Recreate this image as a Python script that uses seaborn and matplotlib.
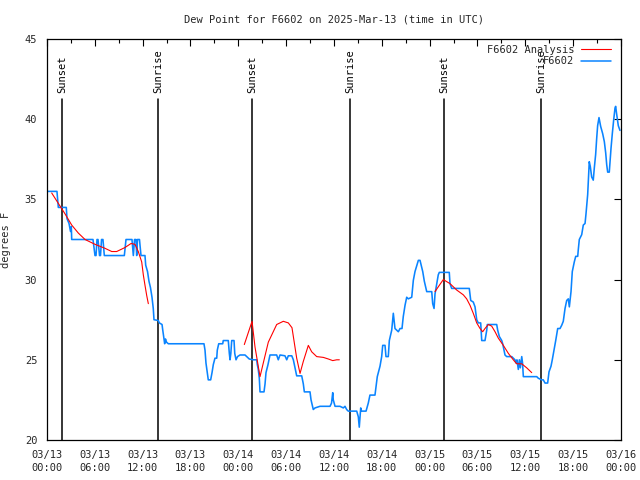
import numpy as np
import pandas as pd
import matplotlib
matplotlib.use("Agg")
import matplotlib.pyplot as plt
import matplotlib.dates as mdates
from matplotlib.lines import Line2D
import seaborn as sns

# ---------------- data (hours since 2025-03-13 00:00 UTC, dew point F) ----------------
start = "2025-03-13 00:00"

obs_hours = [0.0, 1.25, 1.42, 2.42, 2.51, 2.76, 2.95, 3.05, 3.1, 5.77,
             6.02, 6.15, 6.27, 6.4, 6.59, 6.71, 6.84, 7.02, 7.19, 9.7,
             9.91, 10.66, 10.83, 10.98, 11.16, 11.25, 11.35, 11.6, 11.79, 12.29,
             12.38, 12.61, 12.79, 12.98, 13.17, 13.33, 13.42, 13.96, 14.09, 14.43,
             14.52, 14.68, 14.76, 14.86, 14.99, 15.22, 19.69, 19.82, 19.94, 20.11,
             20.23, 20.53, 20.7, 20.86, 21.07, 21.29, 21.36, 21.54, 22.04, 22.11,
             22.74, 22.87, 22.96, 23.06, 23.17, 23.46, 23.55, 23.71, 23.9, 24.21,
             24.84, 25.05, 25.37, 25.88, 26.3, 26.38, 26.5, 26.63, 26.72, 27.22,
             27.35, 27.47, 27.72, 27.97, 28.81, 29.01, 29.23, 29.85, 30.07, 30.27,
             30.7, 30.9, 31.32, 31.95, 32.15, 32.28, 32.99, 33.12, 33.4, 33.62,
             34.24, 35.5, 35.69, 35.84, 35.91, 36.13, 36.75, 37.17, 37.38, 37.59,
             37.79, 38.85, 39.05, 39.17, 39.35, 39.45, 40.02, 40.3, 40.51, 41.14,
             41.27, 41.43, 41.77, 41.98, 42.11, 42.4, 42.52, 42.81, 42.94, 43.24,
             43.44, 43.65, 43.87, 44.07, 44.28, 44.53, 44.69, 44.91, 45.12, 45.32,
             45.75, 45.95, 46.16, 46.58, 46.79, 47.13, 47.33, 47.63, 48.26, 48.38,
             48.55, 48.67, 48.88, 49.08, 49.21, 50.46, 50.55, 50.76, 52.97, 53.15,
             53.47, 53.69, 53.9, 54.1, 54.4, 54.53, 54.94, 55.16, 55.23, 56.41,
             56.53, 56.74, 57.04, 57.16, 57.33, 57.45, 57.66, 58.29, 58.49, 58.7,
             58.83, 58.95, 59.12, 59.25, 59.37, 59.55, 59.65, 59.75, 61.43, 61.63,
             62.05, 62.25, 62.47, 62.8, 62.97, 63.22, 63.38, 63.63, 63.81, 64.06,
             64.35, 64.56, 64.76, 64.98, 65.19, 65.39, 65.52, 65.73, 65.89, 66.14,
             66.32, 66.57, 66.64, 66.77, 67.07, 67.27, 67.49, 67.61, 67.82, 67.9,
             68.02, 68.15, 68.32, 68.52, 68.65, 68.82, 68.95, 69.07, 69.24, 69.45,
             69.7, 69.91, 70.08, 70.21, 70.33, 70.53, 70.75, 70.91, 71.08, 71.25,
             71.33, 71.46, 71.66, 71.87]

obs_dewpt = [35.5, 35.5, 34.5, 34.5, 33.8, 33.5, 33.0, 33.3, 32.5, 32.5,
             31.5, 31.5, 32.5, 32.5, 31.5, 31.5, 32.5, 32.5, 31.5, 31.5,
             32.5, 32.5, 31.5, 32.5, 32.5, 31.5, 32.5, 32.5, 31.5, 31.5,
             30.9, 30.5, 29.9, 29.5, 28.9, 28.2, 27.5, 27.45, 27.3, 27.2,
             26.85, 26.3, 26.0, 26.3, 26.1, 26.0, 26.0, 25.6, 24.8, 24.2,
             23.75, 23.75, 24.2, 24.7, 25.1, 25.1, 25.6, 26.0, 26.0, 26.2,
             26.2, 25.4, 25.0, 25.4, 26.2, 26.2, 25.4, 25.0, 25.2, 25.3,
             25.3, 25.2, 25.05, 25.0, 25.0, 24.7, 24.4, 23.85, 23.0, 23.0,
             23.5, 24.2, 24.7, 25.3, 25.3, 25.0, 25.3, 25.25, 25.0, 25.25,
             25.25, 25.0, 24.0, 24.0, 23.5, 23.0, 23.0, 22.5, 21.9, 22.0,
             22.1, 22.1, 22.3, 22.95, 22.5, 22.1, 22.1, 22.0, 22.1, 21.9,
             21.8, 21.8, 21.45, 20.8, 22.0, 21.8, 21.8, 22.3, 22.8, 22.8,
             23.3, 23.95, 24.6, 25.2, 25.9, 25.9, 25.2, 25.2, 26.2, 26.85,
             27.9, 26.95, 26.85, 26.75, 26.95, 26.95, 27.7, 28.4, 28.9, 28.8,
             28.9, 29.95, 30.5, 31.2, 31.2, 30.5, 29.9, 29.25, 29.25, 28.5,
             28.2, 29.1, 29.7, 30.3, 30.45, 30.45, 29.75, 29.45, 29.45, 28.7,
             28.6, 28.3, 27.5, 27.3, 27.3, 26.2, 26.2, 26.85, 27.2, 27.2,
             26.85, 26.45, 26.2, 26.0, 25.6, 25.3, 25.2, 25.2, 25.1, 25.0,
             24.8, 25.0, 24.4, 25.0, 24.5, 25.2, 24.8, 23.95, 23.95, 23.85,
             23.75, 23.75, 23.55, 23.55, 24.25, 24.6, 25.0, 25.7, 26.2, 26.95,
             26.95, 27.15, 27.4, 28.2, 28.7, 28.8, 28.3, 29.25, 30.5, 31.1,
             31.45, 31.45, 31.85, 32.5, 32.8, 33.4, 33.5, 34.1, 35.3, 36.1,
             37.35, 37.05, 36.4, 36.2, 36.95, 37.8, 38.8, 39.6, 40.1, 39.55,
             39.1, 38.6, 37.9, 37.15, 36.7, 36.7, 38.2, 39.1, 39.95, 40.7,
             40.8, 40.3, 39.6, 39.3]

ana_seg1_hours = [0.59, 1.42, 2.26, 3.1, 3.93, 4.77, 6.02, 7.28, 8.12, 8.74,
                  9.78, 10.54, 11.04, 11.45, 11.88, 12.08, 12.29, 12.51, 12.71]
ana_seg1_dewpt = [35.4, 34.75, 34.1, 33.4, 32.9, 32.5, 32.2, 31.95, 31.75, 31.75,
                  32.0, 32.25, 32.2, 31.75, 31.1, 30.3, 29.65, 29.0, 28.5]

ana_seg2_hours = [24.75, 25.72, 26.09, 26.72, 27.13, 27.76, 28.81, 29.64, 30.27, 30.73,
                  31.32, 31.74, 32.15, 32.78, 33.2, 33.83, 34.66, 35.29, 35.84, 36.34, 36.67]
ana_seg2_dewpt = [25.95, 27.4, 25.8, 23.95, 24.8, 26.1, 27.2, 27.4, 27.3, 27.0,
                  25.1, 24.15, 24.9, 25.9, 25.5, 25.2, 25.15, 25.05, 24.95, 25.0, 25.0]

ana_seg3_hours = [48.67, 49.08, 49.71, 50.55, 51.39, 52.22, 52.64, 53.06, 53.47, 53.9,
                  54.32, 54.65, 54.94, 55.36, 55.78, 56.2, 56.61, 57.24, 57.87, 58.49,
                  58.92, 59.55, 60.17, 60.8]
ana_seg3_dewpt = [29.25, 29.55, 30.0, 29.75, 29.35, 29.05, 28.8, 28.4, 27.9, 27.3,
                  26.95, 26.75, 26.95, 27.2, 27.1, 26.75, 26.35, 25.9, 25.4, 25.0,
                  24.75, 24.75, 24.5, 24.2]

sunset_hours = [1.88, 25.72, 49.8]
sunrise_hours = [13.92, 38.0, 61.97]

title = "Dew Point for F6602 on 2025-Mar-13 (time in UTC)"
ylabel = "degrees F"
legend_labels = ["F6602 Analysis", "F6602"]

# ---------------- build frames ----------------
t0 = pd.Timestamp(start)
def to_time(hours):
    return t0 + pd.to_timedelta(np.asarray(hours), unit="h")

obs_df = pd.DataFrame({"time": to_time(obs_hours), "dewpt": obs_dewpt})
ana_df = pd.concat([
    pd.DataFrame({"time": to_time(h), "dewpt": v, "seg": i})
    for i, (h, v) in enumerate([(ana_seg1_hours, ana_seg1_dewpt),
                                (ana_seg2_hours, ana_seg2_dewpt),
                                (ana_seg3_hours, ana_seg3_dewpt)])
], ignore_index=True)

# ---------------- style ----------------
sns.set_style("white")
mono = ["DejaVu Sans Mono", "Liberation Mono"]
plt.rcParams["font.family"] = mono
plt.rcParams["font.size"] = 7.5

RED = "#ff0000"
BLUE = "#0a84ff"

fig = plt.figure(figsize=(6.4, 4.8), dpi=100)
ax = fig.add_axes([47 / 640, 40 / 480, (621 - 47) / 640, (440 - 39) / 480])

sns.lineplot(data=obs_df, x="time", y="dewpt", ax=ax, color=BLUE, lw=1.15,
             estimator=None, sort=False)
sns.lineplot(data=ana_df, x="time", y="dewpt", units="seg", ax=ax, color=RED,
             lw=0.8, estimator=None, sort=False)

# sunrise / sunset markers
for hrs, lab in [(sunset_hours, "Sunset"), (sunrise_hours, "Sunrise")]:
    for h in hrs:
        t = to_time([h])[0]
        ax.plot([t, t], [20, 41.25], color="black", lw=1.1, zorder=1)
        ax.text(t, 41.65, lab, rotation=90, ha="center", va="bottom",
                fontsize=7.5, color="black")

ax.set_xlim(t0, t0 + pd.Timedelta(hours=72))
ax.set_ylim(20, 45)
ax.set_yticks([20, 25, 30, 35, 40, 45])
ax.xaxis.set_major_locator(mdates.HourLocator(byhour=[0, 6, 12, 18]))
ax.xaxis.set_minor_locator(mdates.HourLocator(byhour=[3, 9, 15, 21]))
ax.xaxis.set_major_formatter(mdates.DateFormatter("%m/%d\n%H:%M"))

ax.tick_params(which="both", direction="in", top=True, right=True,
               labelsize=7.5, color="black", width=0.8)
ax.tick_params(which="major", length=5)
ax.tick_params(axis="x", which="major", pad=7)
ax.tick_params(axis="y", which="major", pad=7)
ax.tick_params(which="minor", length=3)
for lbl in ax.get_xticklabels():
    lbl.set_linespacing(1.4)
for s in ax.spines.values():
    s.set_color("black")
    s.set_linewidth(0.9)

ax.set_xlabel("")
ax.set_ylabel(ylabel, fontsize=7.5)
ax.yaxis.set_label_coords(-(47 - 11) / 574, 0.5)
ax.set_title(title, fontsize=7.5, pad=12)

handles = [Line2D([], [], color=RED, lw=0.8), Line2D([], [], color=BLUE, lw=1.1)]
leg = ax.legend(handles, legend_labels, loc="upper right", frameon=False,
                markerfirst=False, fontsize=7.5, handlelength=2.8,
                handletextpad=0.7, labelspacing=0.15,
                bbox_to_anchor=(1.0, 1.012), borderaxespad=0.6)

fig.savefig("out.png", dpi=100, facecolor="white")
